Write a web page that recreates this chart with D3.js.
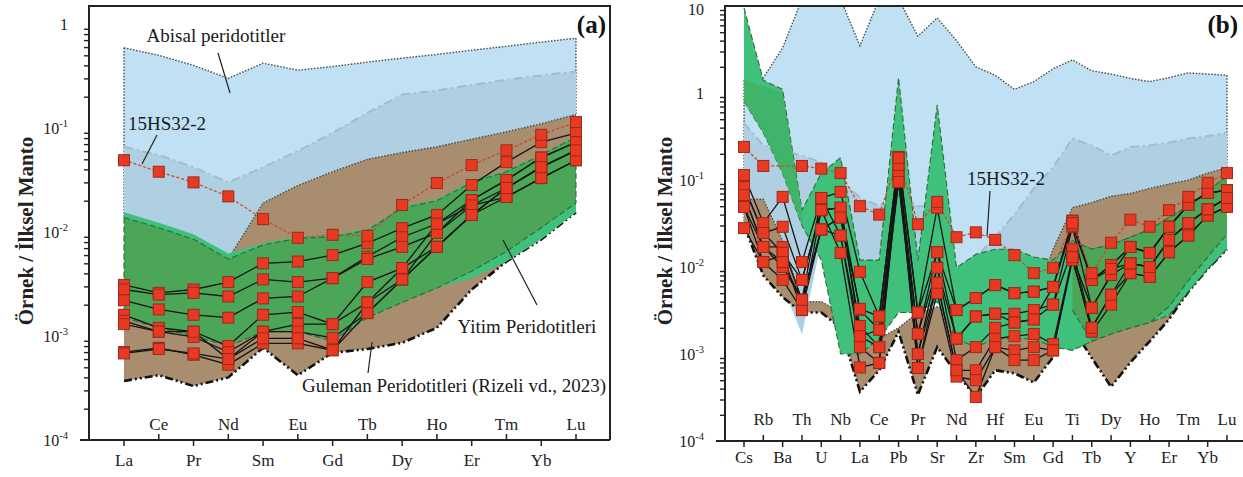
<!DOCTYPE html>
<html>
<head>
<meta charset="utf-8">
<script src="https://cdn.jsdelivr.net/npm/d3@7"></script>
<style>
  body { margin: 0; background: #fff; }
  svg { display: block; font-family: "Liberation Serif", "Times New Roman", serif; }
</style>
</head>
<body>
<svg id="chart" width="1243" height="477"></svg>
<script>
// ---- panel (a): REE ----
const elementsA = ["La","Ce","Pr","Nd","Sm","Eu","Gd","Tb","Dy","Ho","Er","Tm","Yb","Lu"];

const abyssalTopA = [0.59,0.5,0.4,0.3,0.42,0.36,0.39,0.43,0.47,0.51,0.56,0.61,0.67,0.73];
const abyssalLowA = [0.014,0.011,0.0085,0.0055,0.019,0.028,0.038,0.05,0.058,0.066,0.078,0.092,0.11,0.135];
const innerTopA   = [0.066,0.055,0.042,0.03,0.042,0.06,0.09,0.14,0.21,0.23,0.26,0.29,0.32,0.35];
const brownTopA   = [0.012,0.01,0.008,0.0055,0.019,0.028,0.038,0.05,0.058,0.066,0.078,0.092,0.11,0.135];
const brownLowA   = [0.00037,0.00042,0.00033,0.0004,0.00077,0.00042,0.00069,0.00075,0.00086,0.0012,0.0028,0.0052,0.0085,0.0155];
const mintTopA    = [0.0155,0.0123,0.0095,0.0062,0.0078,0.009,0.0093,0.0107,0.0175,0.0205,0.031,0.039,0.056,0.084];
const mintLowA    = [0.0015,0.0012,0.001,0.0008,0.0011,0.0011,0.0009,0.0015,0.0021,0.0029,0.0036,0.0052,0.0085,0.0155];
const greenTopA   = [0.0138,0.011,0.0085,0.0055,0.0075,0.0087,0.009,0.0104,0.017,0.02,0.03,0.038,0.055,0.082];
const greenLowA   = [0.0015,0.0012,0.001,0.0008,0.0011,0.0011,0.0009,0.0015,0.0021,0.0029,0.0042,0.0065,0.011,0.019];

const refA = [0.049,0.038,0.030,0.022,0.0133,0.0088,0.0094,0.0092,0.0182,0.0296,0.044,0.061,0.086,0.114];
const samplesA = [
  [0.0031,0.0026,0.0028,0.0033,0.005,0.0052,0.006,0.0078,0.0109,0.0146,0.0283,0.047,0.073,0.0895],
  [0.0028,0.0025,0.0026,0.0024,0.0035,0.0033,0.0036,0.0058,0.0089,0.012,0.0203,0.0316,0.052,0.073],
  [0.0022,0.0018,0.0016,0.0015,0.0023,0.0024,0.0036,0.0055,0.0072,0.0098,0.018,0.0265,0.042,0.061],
  [0.0016,0.0012,0.0011,0.0008,0.0016,0.0017,0.0013,0.0033,0.0045,0.0072,0.0146,0.0217,0.033,0.049],
  [0.0014,0.0011,0.00098,0.0007,0.0011,0.0013,0.0013,0.0021,0.0035,0.0072,0.0146,0.0265,0.042,0.061],
  [0.0013,0.0011,0.0011,0.0006,0.0011,0.0011,0.00096,0.00166,0.0035,0.0098,0.0203,0.0316,0.052,0.073],
  [0.0007,0.00077,0.00066,0.00053,0.00085,0.00085,0.00073,0.0021,0.0045,0.012,0.018,0.0217,0.033,0.049],
  [0.00068,0.00075,0.00068,0.0006,0.00095,0.00095,0.00073,0.00166,0.0035,0.0072,0.0146,0.0265,0.042,0.061]
];

// ---- panel (b): multi-element ----
const elementsB = ["Cs","Rb","Ba","Th","U","Nb","La","Ce","Pb","Pr","Sr","Nd","Zr","Hf","Sm","Eu","Gd","Ti","Tb","Dy","Y","Ho","Er","Tm","Yb","Lu"];

const abyssalTopB = [1.4,1.5,3.3,12,12,12,3.5,12,12,4.5,7.3,4.0,2.0,1.6,1.1,1.35,1.9,2.4,1.8,1.65,1.47,1.35,1.5,1.7,1.65,1.6];
const abyssalLowB = [0.03,0.012,0.006,0.0017,0.02,0.012,0.0067,0.006,0.006,0.013,0.012,0.009,0.006,0.005,0.006,0.008,0.012,0.02,0.03,0.04,0.05,0.06,0.07,0.09,0.11,0.14];
const innerTopB   = [0.45,0.25,0.22,0.19,0.16,0.1,0.063,0.05,0.07,0.05,0.05,0.0098,0.013,0.022,0.04,0.08,0.14,0.3,0.25,0.19,0.24,0.25,0.27,0.3,0.32,0.35];
const brownTopB   = [0.06,0.06,0.02,0.004,0.004,0.003,0.0015,0.0015,0.002,0.003,0.0035,0.003,0.002,0.003,0.004,0.004,0.016,0.048,0.055,0.065,0.07,0.08,0.09,0.1,0.12,0.138];
const brownLowB   = [0.03,0.008,0.0045,0.003,0.003,0.002,0.00037,0.00065,0.0018,0.00034,0.0012,0.0006,0.00032,0.00065,0.0006,0.00047,0.00092,0.002,0.0009,0.00042,0.0008,0.0014,0.0025,0.0052,0.0095,0.016];
const mintTopB    = [9.5,1.4,1.1,0.045,0.12,0.18,0.012,0.012,1.5,0.012,0.73,0.0098,0.014,0.016,0.016,0.013,0.012,0.02,0.016,0.018,0.022,0.027,0.037,0.05,0.075,0.11];
const mintLowB    = [0.8,0.35,0.12,0.03,0.012,0.001,0.001,0.0015,0.003,0.003,0.004,0.0015,0.0012,0.0015,0.0015,0.0015,0.0012,0.0011,0.0014,0.0017,0.002,0.0023,0.0028,0.0052,0.0095,0.016];
const bandTopB    = [1.4,1.2,1.0,0.045];      // Cs..Th
const bandLowB    = [0.8,0.35,0.12,0.03];
const darkTopB    = [0.02,0.016,0.018,0.022,0.027,0.037,0.05,0.075,0.11];   // Ti..Lu
const darkLowB    = [0.0032,0.0014,0.0017,0.002,0.0023,0.0035,0.007,0.013,0.024];

const refB = [0.24,0.145,null,0.145,0.135,0.12,0.05,0.04,0.18,0.031,0.056,0.022,0.025,0.0205,0.0137,0.0085,0.0098,0.032,0.0085,0.019,0.035,0.029,0.045,0.064,0.093,0.12];
const samplesB = [
  [0.114,0.032,0.064,0.0114,0.062,0.073,0.0088,0.0027,0.184,0.003,0.048,0.0032,0.0044,0.0062,0.005,0.0052,0.0059,0.034,0.0071,0.0105,0.017,0.0145,0.029,0.052,0.071,0.076],
  [0.083,0.0246,0.029,0.0071,0.045,0.048,0.0032,0.0019,0.149,0.0017,0.0148,0.0015,0.0027,0.0029,0.0029,0.0032,0.0037,0.029,0.0034,0.0081,0.011,0.01,0.0205,0.032,0.046,0.062],
  [0.067,0.017,0.017,0.0042,0.027,0.037,0.0021,0.0012,0.12,0.001,0.0098,0.00085,0.0012,0.002,0.0023,0.0025,0.0037,0.016,0.002,0.0048,0.0085,0.0077,0.0148,0.023,0.039,0.049],
  [0.049,0.0114,0.0138,0.0032,0.027,0.023,0.0016,0.0012,0.095,0.001,0.0066,0.00065,0.00065,0.0015,0.0016,0.0017,0.0013,0.013,0.0018,0.0037,0.0085,0.0077,0.0148,0.023,0.039,0.049],
  [0.028,0.0114,0.0071,0.0032,0.045,0.0145,0.0007,0.00079,0.12,0.00069,0.005,0.00055,0.0005,0.0012,0.0011,0.0012,0.0011,0.012,0.002,0.0048,0.011,0.01,0.0205,0.032,0.046,0.062],
  [0.049,0.017,0.01,0.0042,0.062,0.023,0.0012,0.00079,0.149,0.00069,0.0066,0.00065,0.00032,0.0012,0.00085,0.00085,0.0011,0.013,0.0034,0.0081,0.017,0.0145,0.029,0.052,0.071,0.076],
  [0.083,0.0246,0.0145,0.0071,0.045,0.048,0.0016,0.0019,0.095,0.0017,0.0098,0.0015,0.0027,0.0029,0.0023,0.0025,0.0059,0.03,0.0071,0.0105,0.017,0.0145,0.029,0.052,0.071,0.076],
  [0.067,0.017,0.0114,0.0042,0.027,0.037,0.0033,0.0027,0.184,0.003,0.0148,0.0032,0.0044,0.0062,0.005,0.0052,0.0059,0.034,0.0071,0.0095,0.011,0.01,0.0205,0.032,0.046,0.062]
];

// styles
const dotted = { stroke: "#4a4a4a", width: 1.4, dash: "1.5 1.6" };
const dashDot = { stroke: "#a3bccb", width: 2, dash: "9 4 2 4" };
const greenDash = { stroke: "#2f6a3a", width: 1.1, dash: "6 3" };
const heavyDashDot = { stroke: "#111", width: 2.6, dash: "8 3 2 3 2 3" };

const svg = d3.select("#chart");
const defs = svg.append("defs");

function drawPanel(o) {
  const x = d3.scalePoint().domain(o.elements).range(o.xRange);
  const y = d3.scaleLog().domain(o.yDomain).range([o.bottom, o.top]);

  defs.append("clipPath").attr("id", o.id + "-clip")
    .append("rect")
    .attr("x", o.left).attr("y", o.top)
    .attr("width", o.right - o.left).attr("height", o.bottom - o.top);

  const g = svg.append("g");
  const plot = g.append("g").attr("clip-path", `url(#${o.id}-clip)`);

  // envelopes
  o.regions.forEach((r) => {
    const start = r.start || 0;
    const pts = r.top.map((t, i) => ({ e: o.elements[start + i], t, l: r.low[i] }));
    plot.append("path")
      .attr("d", d3.area().x((d) => x(d.e)).y0((d) => y(d.l)).y1((d) => y(d.t))(pts))
      .attr("fill", r.fill);
    const stroke = (path, st) =>
      plot.append("path").attr("d", path).attr("fill", "none")
        .attr("stroke", st.stroke).attr("stroke-width", st.width)
        .attr("stroke-dasharray", st.dash);
    if (r.topLine) stroke(d3.line().x((d) => x(d.e)).y((d) => y(d.t))(pts), r.topLine);
    if (r.lowLine) stroke(d3.line().x((d) => x(d.e)).y((d) => y(d.l))(pts), r.lowLine);
    if (r.sideLine) {
      [pts[0], pts[pts.length - 1]].forEach((d) =>
        stroke(`M${x(d.e)},${y(d.t)}V${y(d.l)}`, r.sideLine));
    }
  });

  // sample patterns
  const line = d3.line().x((d) => x(d.e)).y((d) => y(d.v));
  const toPts = (arr) => arr.map((v, i) => ({ e: o.elements[i], v })).filter((d) => d.v != null);

  o.samples.forEach((s) => {
    plot.append("path").attr("d", line(toPts(s)))
      .attr("fill", "none").attr("stroke", "#141414").attr("stroke-width", 1.3);
  });
  plot.append("path").attr("d", line(toPts(o.ref)))
    .attr("fill", "none").attr("stroke", "#d2452c").attr("stroke-width", 1.3)
    .attr("stroke-dasharray", "3 2");

  const allPts = o.samples.concat([o.ref]).flatMap(toPts);
  const sq = 11;
  plot.append("g").selectAll("rect").data(allPts).join("rect")
    .attr("x", (d) => x(d.e) - sq / 2).attr("y", (d) => y(d.v) - sq / 2)
    .attr("width", sq).attr("height", sq)
    .attr("fill", "#e83a22").attr("stroke", "#9c2a1b").attr("stroke-width", 1);

  // y axis ticks
  const top = o.yDomain[1];
  const decades = d3.range(-4, Math.floor(Math.log10(top) + 1e-9) + 1).map((p) => Math.pow(10, p));
  const minors = [];
  decades.forEach((d) => { for (let k = 2; k <= 9; k++) if (d * k <= top) minors.push(d * k); });

  const ay = g.append("g").attr("transform", `translate(${o.left},0)`);
  ay.call(d3.axisLeft(y).tickValues(decades).tickSize(9).tickFormat(""));
  ay.call(d3.axisLeft(y).tickValues(minors).tickSize(5).tickFormat(""));
  ay.selectAll(".domain").remove();
  ay.selectAll("line").attr("stroke", "#222").attr("stroke-width", 1.4);

  decades.forEach((d) => {
    const p = Math.round(Math.log10(d));
    const t = g.append("text").attr("x", o.labelRight).attr("y", Math.max(y(d) + 6, 15))
      .attr("text-anchor", "end").attr("font-size", 16).attr("fill", "#222");
    if (p === 0) t.text("1");
    else if (p === 1) t.text("10");
    else {
      t.text("10");
      t.append("tspan").attr("dy", -7).attr("font-size", 10.5).text(p);
    }
  });

  // x ticks and labels, alternating below/above the axis
  o.elements.forEach((e, i) => {
    const below = i % 2 === 0;
    g.append("line")
      .attr("x1", x(e)).attr("x2", x(e))
      .attr("y1", o.bottom).attr("y2", o.bottom + (below ? 6 : -6))
      .attr("stroke", "#222").attr("stroke-width", 1.5);
    g.append("text").attr("x", x(e))
      .attr("y", below ? o.bottom + o.lowLabel : o.bottom - o.highLabel)
      .attr("text-anchor", "middle").attr("font-size", 17).attr("fill", "#222")
      .text(e);
  });

  // frame
  const f = g.append("g").attr("stroke", "#222").attr("stroke-width", 2).attr("fill", "none");
  f.append("path").attr("d", `M${o.left - 9},${o.bottom}H${o.frameRight}`);
  f.append("path").attr("d", `M${o.left},${o.bottom}V${o.top}H${o.frameRight}` + (o.closed ? `V${o.bottom}` : ""));

  // y title
  g.append("text")
    .attr("transform", `translate(${o.titleX},231) rotate(-90)`)
    .attr("text-anchor", "middle").attr("font-size", 21).attr("font-weight", "bold")
    .attr("fill", "#222").text("Örnek / İlksel Manto");

  // panel letter
  g.append("text").attr("x", o.letterX).attr("y", 33).attr("text-anchor", "end")
    .attr("font-size", 25).attr("font-weight", "bold").attr("fill", "#111").text(o.letter);

  // annotations
  o.notes.forEach((n) => {
    g.append("text").attr("x", n.x).attr("y", n.y).attr("text-anchor", "middle")
      .attr("font-size", 19).attr("fill", "#1a1a1a").text(n.text);
    if (n.lead) {
      g.append("line").attr("x1", n.lead[0]).attr("y1", n.lead[1])
        .attr("x2", n.lead[2]).attr("y2", n.lead[3])
        .attr("stroke", "#222").attr("stroke-width", 1.2);
    }
  });
}

drawPanel({
  id: "a",
  elements: elementsA,
  xRange: [124, 576],
  yDomain: [1e-4, 1.49],
  left: 89, right: 610, frameRight: 610, top: 6, bottom: 440, closed: true,
  labelRight: 68, titleX: 33, letterX: 606, letter: "(a)",
  lowLabel: 26, highLabel: 10,
  regions: [
    { top: abyssalTopA, low: abyssalLowA, fill: "#bfe1f3", topLine: dotted, sideLine: dotted },
    { top: innerTopA, low: abyssalLowA, fill: "#aed0e2", topLine: dashDot },
    { top: brownTopA, low: brownLowA, fill: "#a88d6e", topLine: dotted, lowLine: heavyDashDot },
    { top: mintTopA, low: mintLowA, fill: "#3fc07b" },
    { top: greenTopA, low: greenLowA, fill: "#4ba658", topLine: greenDash, lowLine: greenDash, sideLine: greenDash }
  ],
  samples: samplesA,
  ref: refA,
  notes: [
    { text: "Abisal peridotitler", x: 216, y: 42, lead: [218, 53, 230, 93] },
    { text: "15HS32-2", x: 167, y: 130, lead: [157, 135, 142, 164] },
    { text: "Yitim Peridotitleri", x: 527, y: 333, lead: [503, 240, 537, 305] },
    { text: "Guleman Peridotitleri (Rizeli vd., 2023)", x: 454, y: 392, lead: [372, 342, 368, 373] }
  ]
});

drawPanel({
  id: "b",
  elements: elementsB,
  xRange: [744, 1227],
  yDomain: [1e-4, 10],
  left: 725, right: 1243, frameRight: 1243, top: 6, bottom: 441, closed: false,
  labelRight: 704, titleX: 672, letterX: 1238, letter: "(b)",
  lowLabel: 22, highLabel: 16,
  regions: [
    { top: abyssalTopB, low: abyssalLowB, fill: "#bfe1f3", topLine: dotted, sideLine: dotted },
    { top: innerTopB, low: abyssalLowB, fill: "#aed0e2", topLine: dashDot },
    { top: brownTopB, low: brownLowB, fill: "#a88d6e", topLine: dotted, lowLine: heavyDashDot },
    { top: mintTopB, low: mintLowB, fill: "#3fc07b", topLine: greenDash, lowLine: greenDash },
    { top: bandTopB, low: bandLowB, fill: "#40b468", start: 0 },
    { top: darkTopB, low: darkLowB, fill: "#4ba658", start: 17, topLine: greenDash, lowLine: greenDash }
  ],
  samples: samplesB,
  ref: refB,
  notes: [
    { text: "15HS32-2", x: 1006, y: 185, lead: [990, 191, 987, 236] }
  ]
});
</script>
</body>
</html>
